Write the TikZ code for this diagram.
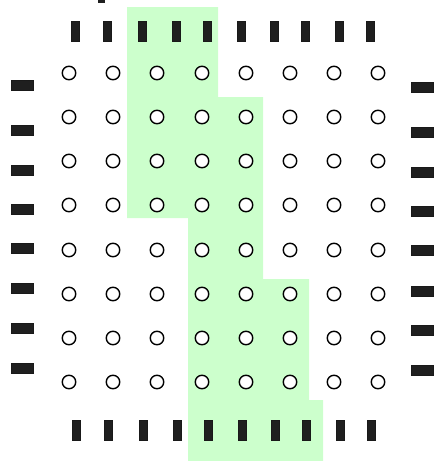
\documentclass[tikz,border=0pt]{standalone}
\begin{document}
\begin{tikzpicture}[x=1pt,y=-1pt,
  ball/.style={circle,draw=black,fill=white,line width=1.4pt,minimum size=13.5pt,inner sep=0pt},
  vpad/.style={rectangle,draw=black!90,fill=black!88,line width=0.8pt,minimum width=8pt,minimum height=20pt,inner sep=0pt},
  hpad/.style={rectangle,draw=black!90,fill=black!88,line width=0.8pt,minimum width=22pt,minimum height=10pt,inner sep=0pt},
  region/.style={fill={rgb,255:red,204;green,255;blue,204},draw=none}]
\useasboundingbox (0,0) rectangle (438,461);
% highlighted region
\fill[region] (127,7) -- (218,7) -- (218,97) -- (263,97) -- (263,279) -- (309,279) -- (309,400) -- (323,400) -- (323,461) -- (188,461) -- (188,218) -- (127,218) -- cycle;
% partial mark at top edge
\fill[black!88] (98,0) rectangle (105,3);
% ball grid
\foreach \c/\x in {1/69,2/113,3/157,4/202,5/246,6/290,7/334,8/378}{
  \foreach \r/\y in {1/73,2/117,3/161,4/205,5/250,6/294,7/338,8/382}{
    \node[ball] (b\r\c) at (\x,\y) {};
  }
}
% top pads
\foreach \i/\x in {1/75,2/107,3/142,4/176,5/207,6/241,7/274,8/305,9/339,10/370}{
  \node[vpad] (t\i) at (\x,31) {};
}
% bottom pads
\foreach \i/\x in {1/76,2/108,3/143,4/177,5/208,6/242,7/275,8/306,9/340,10/371}{
  \node[vpad] (d\i) at (\x,430) {};
}
% left pads
\foreach \i/\y in {1/85,2/130,3/170,4/209,5/248,6/288,7/328,8/368}{
  \node[hpad] (l\i) at (22,\y) {};
}
% right pads
\foreach \i/\y in {1/87,2/132,3/172,4/211,5/250,6/291,7/330,8/370}{
  \node[hpad] (r\i) at (422,\y) {};
}
\end{tikzpicture}
\end{document}
